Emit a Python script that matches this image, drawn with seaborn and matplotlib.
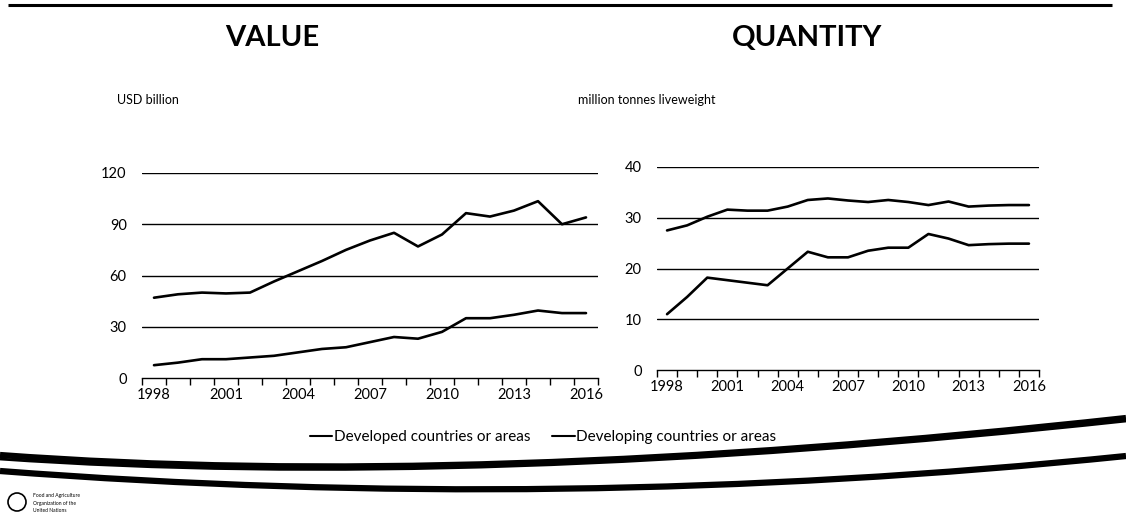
import matplotlib
matplotlib.use("Agg")
import matplotlib.pyplot as plt
from matplotlib.path import Path
from matplotlib.patches import PathPatch, Circle
import numpy as np
import pandas as pd
import seaborn as sns

# Years (category axis) and the two country groups
years = list(range(1998, 2017))
groups = ["Developed countries or areas", "Developing countries or areas"]

# Trade value, USD billion
value_developed = [47, 49, 50, 49.5, 50, 56.5, 62.5, 68.5, 75, 80.5, 85, 77, 84, 96.5, 94.5, 98, 103.5, 90, 94]
value_developing = [7.5, 9, 11, 11, 12, 13, 15, 17, 18, 21, 24, 23, 27, 35, 35, 37, 39.5, 38, 38]

# Trade quantity, million tonnes live weight
qty_developed = [27.5, 28.5, 30.2, 31.6, 31.4, 31.4, 32.2, 33.5, 33.8, 33.4, 33.1, 33.5, 33.1, 32.5, 33.2, 32.2, 32.4, 32.5, 32.5]
qty_developing = [11, 14.4, 18.2, 17.7, 17.2, 16.7, 20, 23.3, 22.2, 22.2, 23.5, 24.1, 24.1, 26.8, 25.9, 24.6, 24.8, 24.9, 24.9]

value_ticks = [0, 30, 60, 90, 120]
qty_ticks = [0, 10, 20, 30, 40]
year_labels = [1998, 2001, 2004, 2007, 2010, 2013, 2016]


def long_frame(dev, dvg):
    return pd.DataFrame({
        "year": years * 2,
        "value": dev + dvg,
        "group": [groups[0]] * len(years) + [groups[1]] * len(years),
    })


value_df = long_frame(value_developed, value_developing)
qty_df = long_frame(qty_developed, qty_developing)

sns.set_theme(style="white")
plt.rcParams["font.family"] = ["Lato", "DejaVu Sans"]

fig = plt.figure(figsize=(11.26, 5.19), dpi=100)
W, H = 1126, 519

# Background decoration layer in pixel coordinates
deco = fig.add_axes([0, 0, 1, 1], zorder=0)
deco.set_xlim(0, W)
deco.set_ylim(H, 0)
deco.axis("off")
deco.plot([8, 1112], [5, 5], color="black", lw=2.2, solid_capstyle="butt")


def swoosh(p0, c, p1, lw):
    path = Path([p0, c, p1], [Path.MOVETO, Path.CURVE3, Path.CURVE3])
    deco.add_patch(PathPatch(path, fill=False, lw=lw, color="black", capstyle="butt"))


swoosh((0, 455), (470, 490), (1126, 418), 4.5)
swoosh((0, 459), (470, 492), (1126, 421), 2.0)
swoosh((0, 471), (560, 514), (1126, 456), 4.5)
deco.add_patch(Circle((17, 502), 9, fill=False, lw=1.2, color="black"))
deco.text(33, 496, "Food and Agriculture", fontsize=3.6, va="center", color="black")
deco.text(33, 503, "Organization of the", fontsize=3.6, va="center", color="black")
deco.text(33, 510, "United Nations", fontsize=3.6, va="center", color="black")


def panel(rect, df, ticks, title, title_x, unit, unit_x):
    ax = fig.add_axes(rect, zorder=1)
    ax.patch.set_alpha(0)
    sns.lineplot(data=df, x="year", y="value", hue="group",
                 palette=["black", "black"], linewidth=1.9, ax=ax, legend=False)
    ax.set_xlim(1997.5, 2016.5)
    ax.set_ylim(ticks[0], ticks[-1])
    ax.set_yticks(ticks)
    ax.set_xticks(year_labels)
    ax.set_xticks(np.arange(1997.5, 2017, 1.0), minor=True)
    ax.tick_params(axis="x", which="major", length=0, pad=7, labelsize=10.5, colors="black")
    ax.tick_params(axis="x", which="minor", length=5, width=1, direction="out",
                   bottom=True, color="black")
    ax.tick_params(axis="y", length=0, pad=11, labelsize=10.5, colors="black")
    for t in ticks[1:]:
        ax.axhline(t, color="black", lw=1.0, zorder=0.5)
    for s in ["left", "right", "top"]:
        ax.spines[s].set_visible(False)
    ax.spines["bottom"].set_color("black")
    ax.spines["bottom"].set_linewidth(1.0)
    ax.set_xlabel("")
    ax.set_ylabel("")
    fig.text(title_x / W, 1 - 38 / H, title, fontsize=21, fontweight="bold",
             ha="center", va="center", color="black")
    fig.text(unit_x / W, 1 - 100 / H, unit, fontsize=9, ha="left", va="center",
             color="black")
    return ax


panel([142 / W, 1 - 378 / H, 456 / W, 205 / H], value_df, value_ticks,
      "VALUE", 272, "USD billion", 117)
panel([657 / W, 1 - 370 / H, 382 / W, 203 / H], qty_df, qty_ticks,
      "QUANTITY", 807, "million tonnes liveweight", 578)

# Shared legend below the panels
handles = [plt.Line2D([], [], color="black", lw=1.5) for _ in groups]
fig.legend(handles, groups, loc="center", bbox_to_anchor=(543 / W, 1 - 437 / H),
           ncol=2, frameon=False, fontsize=11, handlelength=1.5, handletextpad=0.1,
           columnspacing=1.4, labelcolor="black")

fig.savefig("out.png", dpi=100)
